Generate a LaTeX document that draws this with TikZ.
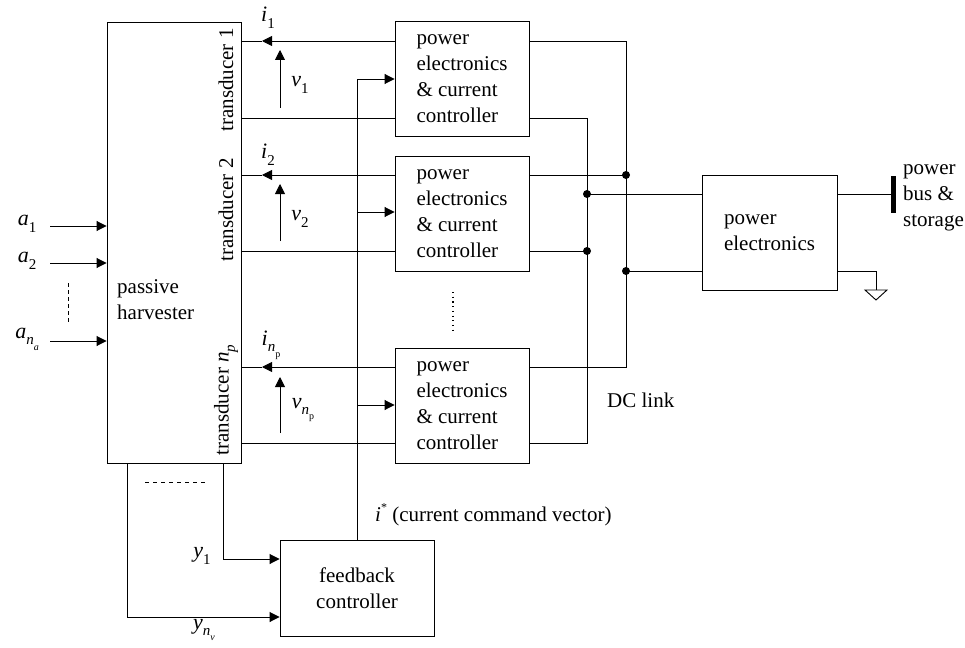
\documentclass[tikz,border=0pt]{standalone}
\usepackage{fontspec}
\setmainfont{Liberation Serif}
\usetikzlibrary{arrows.meta}
\newcommand\lsub[1]{\raisebox{-0.3em}{\fontsize{15pt}{15pt}\selectfont #1}}
\newcommand\lssub[1]{\raisebox{-0.35em}{\fontsize{10pt}{10pt}\selectfont #1}}
\begin{document}
\begin{tikzpicture}[x=1pt,y=-1pt,
  font=\fontsize{21pt}{26pt}\selectfont,
  wire/.style={line width=0.9pt},
  box/.style={draw, line width=0.9pt, inner sep=0pt, align=left},
  tip/.style={-{Triangle[length=10pt,width=10pt]}},
  jdot/.style={circle, fill, inner sep=0pt, minimum size=8pt},
  lbl/.style={inner sep=0pt},
  sym/.style={inner sep=0pt, font=\fontsize{22pt}{22pt}\selectfont}]
\useasboundingbox (0,0) rectangle (965,647);

% boxes
\node[box, minimum width=134pt, minimum height=441pt] (harv) at (174,242.5) {};
\node[lbl, align=left, anchor=west] (harvtxt) at (117,300) {passive\\harvester};
\node[box, minimum width=134pt, minimum height=115pt] (pe1) at (462,78.5) {power\\electronics\\\& current\\controller};
\node[box, minimum width=134pt, minimum height=115pt] (pe2) at (462,213.5) {power\\electronics\\\& current\\controller};
\node[box, minimum width=134pt, minimum height=115pt] (pe3) at (462,405.5) {power\\electronics\\\& current\\controller};
\node[box, minimum width=135pt, minimum height=115pt] (pem) at (769.5,232.5) {power\\electronics};
\node[box, minimum width=154pt, minimum height=96pt, align=center] (fb) at (357,588) {feedback\\controller};

% transducer labels
\node[lbl, rotate=90] (tr1) at (226,80) {transducer 1};
\node[lbl, rotate=90] (tr2) at (226,210) {transducer 2};
\node[lbl, rotate=90] (trn) at (226,400) {transducer \textit{n}\lsub{\textit{p}}};

% level coordinates
\coordinate (y1a) at (0,41);   \coordinate (y1b) at (0,118);
\coordinate (y2a) at (0,175);  \coordinate (y2b) at (0,251);
\coordinate (y3a) at (0,367);  \coordinate (y3b) at (0,443);
\coordinate (c1) at (0,79); \coordinate (c2) at (0,212); \coordinate (c3) at (0,405);
\coordinate (busA) at (626,0); \coordinate (busB) at (587,0);

% transducer wires with current arrows
\foreach \a/\b/\p in {y1a/y1b/pe1, y2a/y2b/pe2, y3a/y3b/pe3}{
  \draw[wire, tip] (\p.west |- \a) -- (262,0 |- \a);
  \draw[wire] (262,0 |- \a) -- (harv.east |- \a);
  \draw[wire] (\p.west |- \b) -- (harv.east |- \b);
}
% voltage arrows
\draw[wire, tip] (280,108) coordinate (v1s) -- (280,50) coordinate (v1e);
\draw[wire, tip] (280,241) coordinate (v2s) -- (280,184) coordinate (v2e);
\draw[wire, tip] (280,433) coordinate (v3s) -- (280,377) coordinate (v3e);

% current / voltage labels
\node[sym] (li1) at (268,18) {\textit{i}\lsub{1}};
\node[sym] (li2) at (268,155) {\textit{i}\lsub{2}};
\node[sym] (li3) at (271,345) {\textit{i}\lsub{\textit{n}\lssub{p}}};
\node[sym] (lv1) at (300,85) {\textit{v}\lsub{1}};
\node[sym] (lv2) at (300,219) {\textit{v}\lsub{2}};
\node[sym] (lv3) at (303,410) {\textit{v}\lsub{\textit{n}\lssub{p}}};

% command bus
\coordinate (cb) at (357,0);
\draw[wire, tip] (fb.north) -- (cb |- c1) -- (pe1.west |- c1);
\draw[wire, tip] (cb |- c2) -- (pe2.west |- c2);
\draw[wire, tip] (cb |- c3) -- (pe3.west |- c3);
\node[lbl, anchor=west] (istar) at (375,515) {\textit{i}\raisebox{0.45em}{\fontsize{12pt}{12pt}\selectfont *} (current command vector)};

% DC link wiring
\draw[wire] (pe1.east |- y1a) -| (busA |- y3a) -- (pe3.east |- y3a);
\draw[wire] (pe1.east |- y1b) -| (busB |- y3b) -- (pe3.east |- y3b);
\draw[wire] (pe2.east |- y2a) -- (busA |- y2a) node[jdot] (j1) {};
\draw[wire] (pe2.east |- y2b) -- (busB |- y2b) node[jdot] (j2) {};
\coordinate (m1) at (0,194); \coordinate (m2) at (0,271);
\node[jdot] (j3) at (busB |- m1) {};
\node[jdot] (j4) at (busA |- m2) {};
\draw[wire] (j3.center) -- (pem.west |- m1);
\draw[wire] (j4.center) -- (pem.west |- m2);
\node[lbl, anchor=west] (dcl) at (607,400) {DC link};
\draw[line width=1.2pt, dash pattern=on 1.2pt off 3.5pt] (453,292) coordinate (d1) -- (453,330) coordinate (d2);

% output side
\coordinate (barx) at (893,0);
\draw[wire] (pem.east |- m1) -- (barx |- m1);
\draw[line width=5pt] (893,176) coordinate (bt) -- (893,213) coordinate (bb);
\node[lbl, align=left, anchor=west] (bus) at (903,198) {power\\bus \&\\storage};
\coordinate (gnd) at (876,290);
\draw[wire] (pem.east |- m2) -| (gnd);
\draw[wire, line join=miter] (865,290) -- (887,290) -- (876,300) -- cycle;

% inputs
\foreach \yy/\lab in {226/{\textit{a}\lsub{1}}, 263/{\textit{a}\lsub{2}}, 341/{\textit{a}\lsub{\textit{n}\lssub{\textit{a}}}}}{
  \draw[wire, tip] (50,\yy) -- (harv.west |- 0,\yy);
  \node[sym] at (27,\yy-2) {\lab};
}
\draw[wire, dash pattern=on 4pt off 3pt] (68,283) coordinate (da) -- (68,322) coordinate (db);

% measurement outputs
\coordinate (s1) at (223,0); \coordinate (s2) at (127,0);
\coordinate (m3) at (0,559); \coordinate (m4) at (0,617);
\draw[wire, tip] (s1 |- harv.south) -- (s1 |- m3) -- (fb.west |- m3);
\draw[wire, tip] (s2 |- harv.south) -- (s2 |- m4) -- (fb.west |- m4);
\draw[wire, dash pattern=on 4pt off 4pt] (145,482) coordinate (dd1) -- (207,482) coordinate (dd2);
\node[sym] (ly1) at (202,556) {\textit{y}\lsub{1}};
\node[sym] (lyn) at (204,630) {\textit{y}\lsub{\textit{n}\lssub{\textit{v}}}};
\end{tikzpicture}
\end{document}
